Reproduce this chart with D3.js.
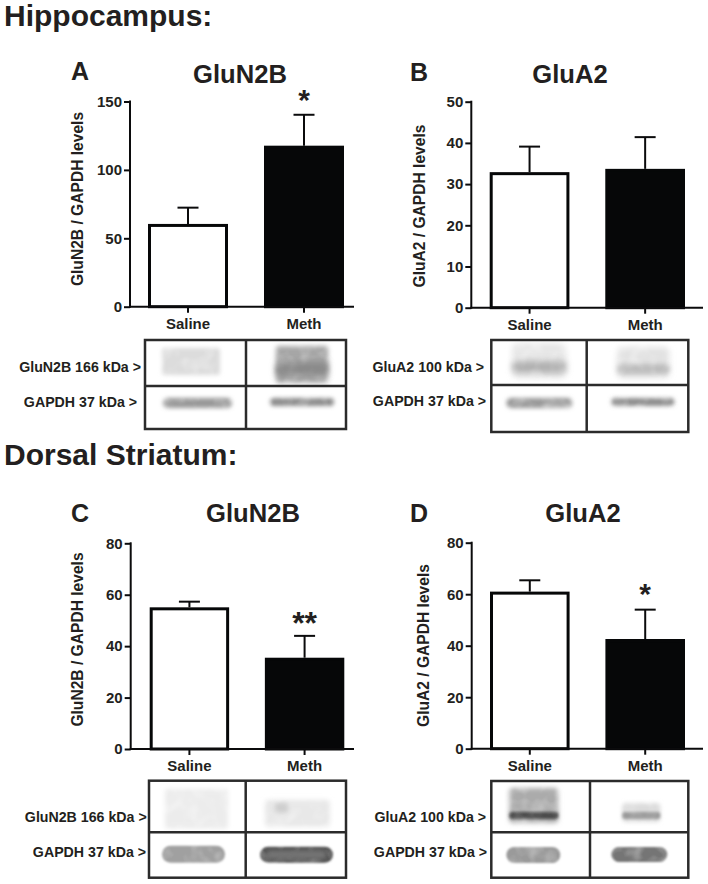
<!DOCTYPE html>
<html><head><meta charset="utf-8">
<script src="https://cdn.jsdelivr.net/npm/d3@7"></script>
<style>
html,body{margin:0;padding:0;background:#fff}
text{font-family:"Liberation Sans",Arial,sans-serif;font-weight:700;fill:#231f20}
</style></head><body><svg id="c" width="708" height="884"></svg>
<script>
// ---- data ----
const groups = ["Saline", "Meth"];
const meansA = [60.5, 117.7], upperA = [72.4, 140.3], ticksA = [0, 50, 100, 150];
const meansB = [32.9, 33.7],  upperB = [39.1, 41.4],  ticksB = [0, 10, 20, 30, 40, 50];
const meansC = [55.1, 35.5],  upperC = [57.3, 44.0],  ticksC = [0, 20, 40, 60, 80];
const meansD = [61.0, 42.6],  upperD = [65.4, 54.0],  ticksD = [0, 20, 40, 60, 80];
const starsA = ["", "*"], starsB = ["", ""], starsC = ["", "**"], starsD = ["", "*"];
const sections = ["Hippocampus:", "Dorsal Striatum:"];
const letters = ["A", "B", "C", "D"];
const titles = ["GluN2B", "GluA2", "GluN2B", "GluA2"];
const yLabels = ["GluN2B / GAPDH levels", "GluA2 / GAPDH levels", "GluN2B / GAPDH levels", "GluA2 / GAPDH levels"];
const blotLabels = [["GluN2B 166 kDa >", "GAPDH 37 kDa >"], ["GluA2 100 kDa >", "GAPDH 37 kDa >"],
                    ["GluN2B 166 kDa >", "GAPDH 37 kDa >"], ["GluA2 100 kDa >", "GAPDH 37 kDa >"]];

// ---- layout ----
const layout = [
 {axisX:130,  axisEnd:354, top:101.5, bottom:306.7, barL:148,   barR:344,  max:150, means:meansA, upper:upperA, ticks:ticksA, stars:starsA,
  letter:[71,80], title:[240,83], yLab:[83,199], starY:110,
  box:[145,340,346,429,386,246], lab:[[141,372],[137,407]]},
 {axisX:471.3,axisEnd:703, top:101.7, bottom:307.7, barL:489.7, barR:685,  max:50,  means:meansB, upper:upperB, ticks:ticksB, stars:starsB,
  letter:[410,80.5], title:[570,83], yLab:[425,206], starY:0,
  box:[491.3,340,688.3,432,385,586.7], lab:[[484,372],[486,406]]},
 {axisX:130.7,axisEnd:354, top:543.3, bottom:749,   barL:149.7, barR:344.3,max:80,  means:meansC, upper:upperC, ticks:ticksC, stars:starsC,
  letter:[71,522], title:[253,522], yLab:[83,639.5], starY:634,
  box:[149,780.7,346,877.7,832.3,245.7], lab:[[146.7,822],[146,857]]},
 {axisX:471.7,axisEnd:703, top:542.7, bottom:748.7, barL:490,   barR:685,  max:80,  means:meansD, upper:upperD, ticks:ticksD, stars:starsD,
  letter:[410,522], title:[583,522], yLab:[429,645.5], starY:604,
  box:[491.3,781,688.3,877.7,832.3,590], lab:[[486,822],[487,857]]}
];
// western-blot smears, as [dx, dy, w, h, grey, blur, corner] relative to each blot box
const smears = [
 [[17,8,58,27,"#dcdcdc",2,3],[131,6,52,37,"#a6a6a6",2.5,3],[131,22,52,14,"#8a8a8a",3,3],[18,58,69,10,"#999999",2.2,5],[125,58,64,8,"#8c8c8c",2,4]],
 [[21,3,54,35,"#e6e6e6",3,6],[21,21,54,12,"#b0b0b0",3,5],[126,7,52,31,"#e2e2e2",3,5],[126,24,52,10,"#bcbcbc",2.5,4],[15,58,66,10,"#999999",2.2,5],[120,58,63,8,"#8c8c8c",2,4]],
 [[16,8,63,40,"#ececec",2.5,3],[116,19,65,27,"#e8e8e8",2.5,4],[125,22,14,10,"#cfcfcf",2,3],[13,65,63,17,"#a0a0a0",1,8.5],[111,66,73,16,"#555555",1,8],[118,70,59,8,"#757575",2,4]],
 [[18,7,49,35,"#ababab",2.5,4],[18,31,49,7,"#484848",1.8,3],[131,22,38,19,"#dcdcdc",2,4],[131,31,38,7,"#9a9a9a",1.5,3],[15,66,54,16,"#9a9a9a",1,8],[120,66,56,15,"#757575",1,7.5]]
];

const svg = d3.select("#c");
const defs = svg.append("defs");
[1,1.5,1.8,2,2.2,2.5,3].forEach(b => {
  const f = defs.append("filter").attr("id","b"+String(b).replace(".","_"))
    .attr("x","-30%").attr("y","-60%").attr("width","160%").attr("height","220%");
  f.append("feGaussianBlur").attr("in","SourceGraphic").attr("stdDeviation",b).attr("result","bl");
  f.append("feTurbulence").attr("type","fractalNoise").attr("baseFrequency",0.07).attr("numOctaves",2).attr("seed",4).attr("result","n");
  f.append("feColorMatrix").attr("in","n").attr("type","matrix")
    .attr("values","0 0 0 0 0  0 0 0 0 0  0 0 0 0 0  0.7 0 0 0 0.6").attr("result","a");
  f.append("feComposite").attr("in","bl").attr("in2","a").attr("operator","in");
});

svg.selectAll("text.section").data(sections).join("text").attr("class","section")
  .attr("x",4).attr("y",(d,i)=>[26,465][i]).attr("font-size",30).text(d=>d);

layout.forEach((p,i)=>{
  const g = svg.append("g");
  const y = d3.scaleLinear().domain([0,p.max]).range([p.bottom,p.top]);
  const x = d3.scaleBand().domain(groups).range([p.barL,p.barR]).paddingInner(36/116);

  g.append("text").attr("x",p.letter[0]).attr("y",p.letter[1]).attr("font-size",25).text(letters[i]);
  g.append("text").attr("x",p.title[0]).attr("y",p.title[1]).attr("font-size",25.6).attr("text-anchor","middle").text(titles[i]);
  g.append("text").attr("transform",`translate(${p.yLab[0]},${p.yLab[1]}) rotate(-90)`).attr("font-size",15.6)
    .attr("text-anchor","middle").text(yLabels[i]);

  // error bars
  groups.forEach((k,j)=>{
    const cx = x(k)+x.bandwidth()/2;
    g.append("line").attr("x1",cx).attr("x2",cx).attr("y1",y(p.means[j])).attr("y2",y(p.upper[j])).attr("stroke","#0b0b0c").attr("stroke-width",2);
    g.append("line").attr("x1",cx-10.5).attr("x2",cx+10.5).attr("y1",y(p.upper[j])).attr("y2",y(p.upper[j])).attr("stroke","#0b0b0c").attr("stroke-width",2);
    if(p.stars[j]) g.append("text").attr("x",cx).attr("y",p.starY).attr("text-anchor","middle").attr("font-size",i==2?32:30).text(p.stars[j]);
  });
  // bars
  g.selectAll("rect.bar").data(groups).join("rect").attr("class","bar")
    .attr("x",d=>x(d)+1.5).attr("width",x.bandwidth()-3)
    .attr("y",(d,j)=>y(p.means[j])+1.5).attr("height",(d,j)=>p.bottom-y(p.means[j])-1.5)
    .attr("fill",(d,j)=>j?"#060708":"#fff").attr("stroke","#060708").attr("stroke-width",3);

  // axes
  const ya = g.append("g").attr("transform",`translate(${p.axisX},0)`)
    .call(d3.axisLeft(y).tickValues(p.ticks).tickSize(6).tickPadding(2));
  ya.select(".domain").attr("stroke","#0b0b0c").attr("stroke-width",2).attr("d",`M0,${p.top-1}V${p.bottom+1}`);
  ya.selectAll(".tick line").attr("stroke","#0b0b0c").attr("stroke-width",2);
  ya.selectAll(".tick text").attr("font-size",15).style("font-family",'"Liberation Sans",Arial,sans-serif').style("font-weight",700).attr("fill","#231f20");

  const xa = g.append("g").attr("transform",`translate(0,${p.bottom})`)
    .call(d3.axisBottom(x).tickSize(6).tickPadding(5.5));
  xa.select(".domain").attr("stroke","#0b0b0c").attr("stroke-width",2).attr("d",`M${p.axisX-1},0H${p.axisEnd}`);
  xa.selectAll(".tick line").attr("stroke","#0b0b0c").attr("stroke-width",2);
  xa.selectAll(".tick text").attr("font-size",15).style("font-family",'"Liberation Sans",Arial,sans-serif').style("font-weight",700).attr("fill","#231f20");

  // blot
  const [x0,y0,x1,y1,my,mx] = p.box;
  const cid = "clip"+i;
  defs.append("clipPath").attr("id",cid).append("rect").attr("x",x0).attr("y",y0).attr("width",x1-x0).attr("height",y1-y0);
  const bg = g.append("g").attr("clip-path",`url(#${cid})`);
  smears[i].forEach(s=>{
    bg.append("rect").attr("x",x0+s[0]).attr("y",y0+s[1]).attr("width",s[2]).attr("height",s[3]).attr("rx",s[6]).attr("ry",s[6])
      .attr("fill",s[4]).attr("filter",`url(#b${String(s[5]).replace(".","_")})`);
  });
  g.append("rect").attr("x",x0).attr("y",y0).attr("width",x1-x0).attr("height",y1-y0).attr("fill","none").attr("stroke","#2b2b2b").attr("stroke-width",2.5);
  g.append("line").attr("x1",x0).attr("x2",x1).attr("y1",my).attr("y2",my).attr("stroke","#2b2b2b").attr("stroke-width",2.5);
  g.append("line").attr("x1",mx).attr("x2",mx).attr("y1",y0).attr("y2",y1).attr("stroke","#2b2b2b").attr("stroke-width",2.5);
  blotLabels[i].forEach((t,j)=>{
    g.append("text").attr("x",p.lab[j][0]).attr("y",p.lab[j][1]).attr("text-anchor","end").attr("font-size",14.2).text(t);
  });
});
</script></body></html>
